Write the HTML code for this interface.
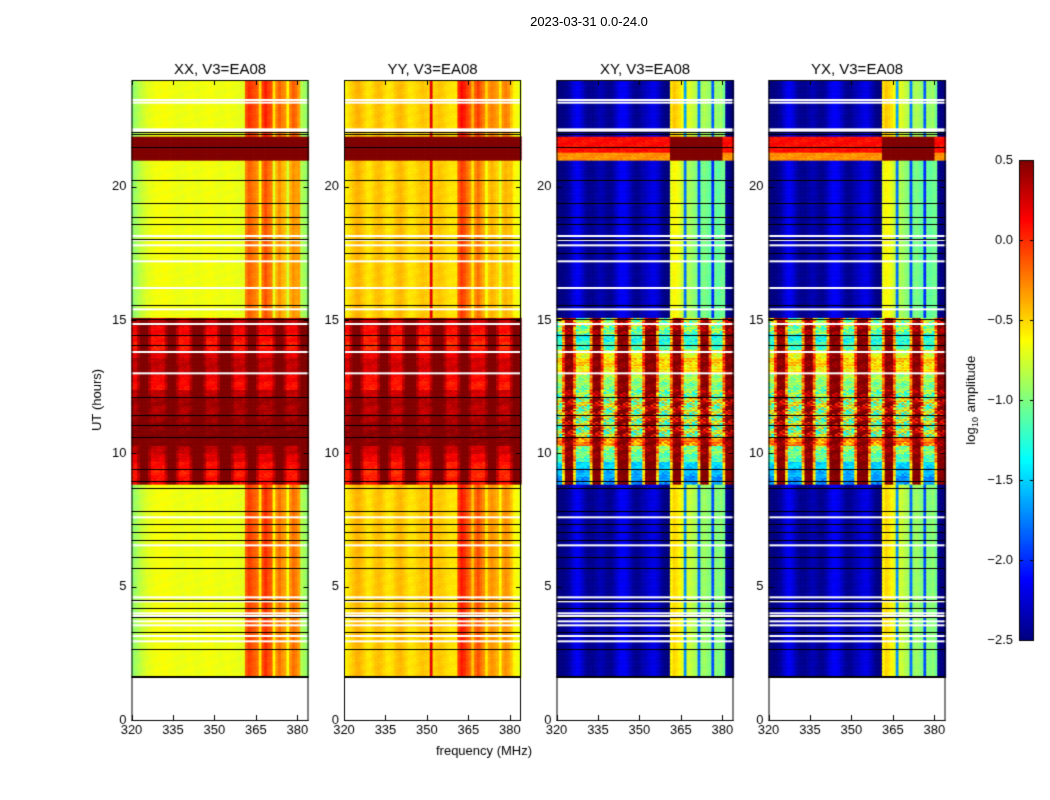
<!DOCTYPE html>
<html><head><meta charset="utf-8">
<style>
body{margin:0;background:#fff;font-family:"Liberation Sans","DejaVu Sans",sans-serif;}
#root{position:relative;width:1050px;height:800px;overflow:hidden;background:#fff;}
.t{position:absolute;font-size:13px;color:#000;white-space:nowrap;}
canvas{position:absolute;}
</style></head><body>
<div id="root">
<div class="t" style="left:489px;top:14px;width:200px;text-align:center;">2023-03-31 0.0-24.0</div>
<canvas id="cv" width="1050" height="800" style="left:0;top:0"></canvas>
</div>
<script>
// ---- data ----
const panelTitles = ["XX, V3=EA08","YY, V3=EA08","XY, V3=EA08","YX, V3=EA08"];
const xTicks = [320,335,350,365,380];
const yTicks = [0,5,10,15,20];
const cbTicks = [0.5,0.0,-0.5,-1.0,-1.5,-2.0,-2.5];
const freqs = [];for(let f=320;f<384;f++)freqs.push(f);
const profXX = [-0.95,-0.9,-0.85,-0.8,-0.76,-0.72,-0.7,-0.68,-0.66,-0.65,-0.65,-0.64,-0.64,-0.65,-0.66,-0.67,-0.68,-0.68,-0.68,-0.67,-0.66,-0.66,-0.67,-0.68,-0.68,-0.67,-0.66,-0.65,-0.65,-0.66,-0.67,-0.68,-0.68,-0.67,-0.66,-0.66,-0.67,-0.68,-0.69,-0.7,-0.7,
 -0.15,-0.05,-0.1,-0.15,-0.2,-0.55,-0.1,0.0,-0.1,-0.15,-0.6,-0.3,-0.2,-0.3,-0.35,-0.65,-0.3,-0.2,-0.25,-0.35,-0.85,-0.9,-0.95];
const profYY = [-0.6,-0.55,-0.5,-0.45,-0.4,-0.4,-0.45,-0.5,-0.55,-0.55,-0.5,-0.45,-0.43,-0.45,-0.5,-0.55,-0.55,-0.53,-0.47,-0.43,-0.41,-0.45,-0.5,-0.55,-0.55,-0.53,-0.5,-0.47,-0.45,-0.47,-0.5,0.2,-0.5,-0.47,-0.45,-0.47,-0.5,-0.53,-0.55,-0.55,-0.55,
 -0.05,0.05,0.0,-0.1,-0.2,-0.45,-0.2,-0.1,-0.2,-0.3,-0.55,-0.35,-0.3,-0.35,-0.4,-0.6,-0.35,-0.3,-0.35,-0.45,-0.6,-0.65,-0.7];
const profXY = [-2.55,-2.55,-2.5,-2.45,-2.4,-2.3,-2.2,-2.15,-2.2,-2.3,-2.4,-2.45,-2.45,-2.45,-2.4,-2.35,-2.35,-2.4,-2.45,-2.45,-2.4,-2.3,-2.2,-2.15,-2.15,-2.2,-2.3,-2.4,-2.45,-2.45,-2.4,-2.35,-2.3,-2.25,-2.2,-2.2,-2.25,-2.35,-2.45,-2.5,-2.55,
 -0.6,-0.5,-0.55,-0.6,-0.7,-1.7,-0.75,-0.8,-0.85,-0.9,-1.8,-0.95,-0.9,-0.95,-1.0,-1.9,-0.95,-1.0,-0.95,-1.05,-2.45,-2.5,-2.55];
const profYX = profXY;
const profiles = [profXX,profYY,profXY,profYX];
const segStart = [1.6,8.8,15.1,21.0,21.9];
const segEnd   = [8.8,15.1,21.0,21.9,24.0];
const segKind  = ["quiet","storm","quiet","sat","quiet"];
const segBandAdj = [0.0,0,-0.1,0,0.05];
const stormXX = [0.1,0.05,0.1,0.2,0.3,0.5,0.5,0.45,0.4,0.35,0.4,0.3,0.1,0.15,0.3,0.3,0.2,0.05,0.1,0.15,0.3];
const stormXY = [-1.7,-1.6,-1.5,-1.1,-1.0,-0.3,-0.9,-0.9,-0.9,-0.9,-0.8,-1.0,-1.0,-0.9,-0.6,-0.5,-0.7,-1.2,-1.3,-1.0,-0.9];
const stormNoise = [0.2,0.2,0.2,0.3,0.4,0.4,0.8,0.8,0.8,0.8,0.8,0.6,0.3,0.3,0.3,0.3,0.3,0.3,0.3,0.5,0.6];
const stormPeaks = [324.5,334.5,344,354,363.5,373.5,383];
const jitter = [0.3,-0.5,0.1,0.45,-0.2,-0.4,0.25,0.0,-0.3,0.5,-0.1,0.35,-0.45,0.15,-0.25,0.4,-0.05,0.2,-0.35,0.05,0.45,-0.15,-0.5];
const blackLines = [22.05,21.98,21.5,20.25,19.4,18.85,18.6,18.05,17.5,15.55,15.05,14.45,14.05,12.1,11.45,11.05,10.6,9.4,8.95,8.7,7.85,7.35,7.05,6.75,6.1,5.7,4.5,4.2,3.85,3.3,2.65];
const whiteLines = [23.25,23.15,22.15,22.1,18.15,18.0,17.8,17.2,16.2,15.4,14.85,13.8,13.0,7.6,6.55,4.6,4.45,4.0,3.9,3.7,3.55,3.15,2.95];
// ---- drawing ----
const cv=document.getElementById('cv');const g=cv.getContext('2d');
const panelX=[131.5,344,556.5,768.5], pW=177, pTop=80, pBot=720;
const xS=(f)=>(f-320)*pW/64;
const yS=(h)=>pBot-(h)*(pBot-pTop)/24;
function jet(v){let x=(v+2.5)/3;x=Math.max(0,Math.min(1,x));
 const c=(a)=>Math.max(0,Math.min(1,a));
 const r=c(1.5-Math.abs(4*x-3)),gg=c(1.5-Math.abs(4*x-2)),b=c(1.5-Math.abs(4*x-1));
 return `rgb(${Math.round(r*255)},${Math.round(gg*255)},${Math.round(b*255)})`;}
function peakW(f){let d=99;for(const p of stormPeaks)d=Math.min(d,Math.abs(f+0.5-p));return d<1.6?1:(d<3?0.5:0);}
function value(p,h,c,ri){
 const f=freqs[c];const pr=profiles[p][c];const band=f>=361&&f<=379;
 let s=0;for(let i=0;i<segStart.length;i++)if(h>=segStart[i]&&h<segEnd[i])s=i;
 const k=segKind[s];const j=jitter[(ri*7+c*3)%jitter.length];
 if(k==="quiet")return pr+(band?segBandAdj[s]:0)+j*0.06;
 if(k==="sat"){if(p<2)return 0.5; return band?0.5:(h<21.3?-0.3:0.1)+j*0.15;}
 const si=Math.min(stormXX.length-1,Math.floor((h-8.8)/0.3));const pk=peakW(f);
 if(p<2){const lo=stormXX[si]+(p===1?-0.05:0);return lo+(0.55-lo)*pk+j*0.15;}
 const lo=stormXY[si];return lo+(0.55-lo)*pk+j*stormNoise[si]*1.5;}
const dt=0.05;
for(let p=0;p<4;p++){
 const x0=panelX[p];
 g.fillStyle='#fff';g.fillRect(x0,pTop,pW,pBot-pTop);
 let ri=0;
 for(let h=1.6;h<24-1e-9;h+=dt,ri++){
  const y1=yS(h+dt),y0=yS(h);
  for(let c=0;c<freqs.length;c++){
   g.fillStyle=jet(value(p,h,c,ri));
   g.fillRect(x0+xS(freqs[c]),y1,xS(freqs[c]+1)-xS(freqs[c])+0.6,y0-y1+0.6);
  }
 }
 g.fillStyle='#fff';for(const w of whiteLines)g.fillRect(x0,yS(w)-1,pW,2);
 g.fillStyle='#000';for(const b of blackLines)g.fillRect(x0,Math.round(yS(b)),pW,1);
 g.fillRect(x0,Math.round(yS(1.6))-1,pW,2);
 g.strokeStyle='#000';g.lineWidth=1;g.strokeRect(x0+0.5,pTop+0.5,pW-1,pBot-pTop);
 g.beginPath();
 for(const t of xTicks){const x=Math.round(x0+xS(t))+0.5;g.moveTo(x,pBot);g.lineTo(x,pBot-5);g.moveTo(x,pTop);g.lineTo(x,pTop+5);}
 for(const t of yTicks){const y=Math.round(yS(t))+0.5;g.moveTo(x0,y);g.lineTo(x0+5,y);g.moveTo(x0+pW,y);g.lineTo(x0+pW-5,y);}
 g.stroke();
 g.fillStyle='#000';g.font='13px "Liberation Sans",sans-serif';
 g.textAlign='center';g.textBaseline='top';
 for(const t of xTicks)g.fillText(String(t),x0+xS(t),pBot+4);
 g.textAlign='right';g.textBaseline='middle';
 for(const t of yTicks)g.fillText(String(t),x0-5,yS(t));
 g.font='15px "Liberation Sans",sans-serif';g.textAlign='center';g.textBaseline='alphabetic';
 g.fillText(panelTitles[p],x0+pW/2,74);
}
g.font='13px "Liberation Sans",sans-serif';g.textAlign='center';g.fillStyle='#000';g.textBaseline='alphabetic';
g.fillText('frequency (MHz)',484,755);
g.save();g.translate(101,400);g.rotate(-Math.PI/2);g.fillText('UT (hours)',0,0);g.restore();
const cbx=1019,cbw=15,cbt=160,cbb=640;
for(let y=cbt;y<cbb;y++){g.fillStyle=jet(0.5-(y-cbt+0.5)/(cbb-cbt)*3);g.fillRect(cbx,y,cbw,1);}
g.strokeStyle='#000';g.strokeRect(cbx+0.5,cbt+0.5,cbw-1,cbb-cbt);
g.fillStyle='#000';g.textAlign='right';g.textBaseline='middle';
for(const t of cbTicks){const y=Math.round(cbb-(t+2.5)/3*(cbb-cbt))+0.5;g.beginPath();g.moveTo(cbx,y);g.lineTo(cbx+4,y);g.moveTo(cbx+cbw,y);g.lineTo(cbx+cbw-4,y);g.stroke();
 g.fillText((t<0?'\u2212':'')+Math.abs(t).toFixed(1),1013,y);}
g.save();g.translate(975,400);g.rotate(-Math.PI/2);g.textAlign='center';g.textBaseline='alphabetic';
g.font='13px "Liberation Sans",sans-serif';g.fillText('log',-36,0);
g.font='9px "Liberation Sans",sans-serif';g.fillText('10',-22,3);
g.font='13px "Liberation Sans",sans-serif';g.fillText('amplitude',16,0);g.restore();
</script>
</body></html>
